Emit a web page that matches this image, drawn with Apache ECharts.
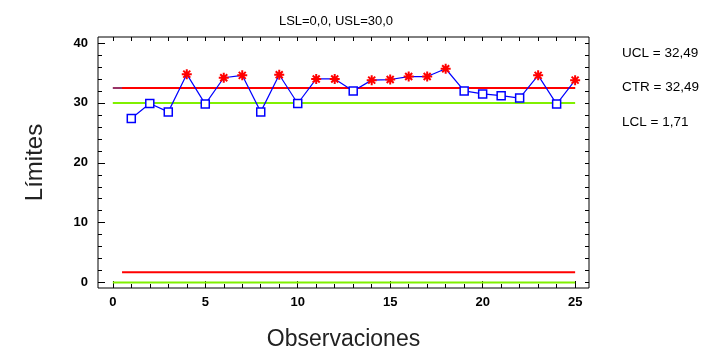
<!DOCTYPE html>
<html>
<head>
<meta charset="utf-8">
<script src="https://cdn.jsdelivr.net/npm/echarts@6/dist/echarts.min.js"></script>
<style>html,body{margin:0;padding:0;background:#fff}#c{width:726px;height:350px}</style>
</head>
<body>
<div id="c"></div>
<script>
// ---- data ----
const observations = [1,2,3,4,5,6,7,8,9,10,11,12,13,14,15,16,17,18,19,20,21,22,23,24,25];
const values = [27.4,29.9,28.5,34.8,29.8,34.2,34.6,28.5,34.7,29.9,34.0,34.0,32.0,33.8,33.9,34.4,34.4,35.7,32.0,31.5,31.2,30.8,34.6,29.8,33.8];
const UCL = 32.49;
const CTR = 32.49;
const LCL = 1.71;
const LSL = 0.0;
const USL = 30.0;
const xTickLabels = [0,5,10,15,20,25];
const yTickLabels = [0,10,20,30,40];
const titleText = 'LSL=0,0, USL=30,0';
const statLabels = ['UCL = 32,49','CTR = 32,49','LCL = 1,71'];

// ---- build ----
const X0 = -0.8, X1 = 25.75, Y0 = -0.9, Y1 = 41;
const xMinor = []; for (let i = 0; i <= 25; i++) xMinor.push(i);
const yMinor = []; for (let i = 0; i <= 40; i += 2) yMinor.push(i);
const pts = observations.map((o,i)=>[o, values[i]]);
const above = pts.filter(p => p[1] > UCL);
const below = pts.filter(p => p[1] <= UCL);
const font = 'Liberation Sans, Arial, sans-serif';
const star = 'path://M0,5 L10,5 M5,0 L5,10 M1.5,1.5 L8.5,8.5 M8.5,1.5 L1.5,8.5';

function xAx(pos, ticks, len, labels, extra) {
  return Object.assign({
    type:'value', position:pos, min:X0, max:X1,
    axisLine:{show:false, onZero:false}, splitLine:{show:false},
    axisTick:{show:true, inside:true, length:len, customValues:ticks, lineStyle:{color:'#000', width:1}},
    axisLabel:{show:!!labels, customValues:labels||[], color:'#000', fontFamily:font, fontSize:13, fontWeight:'bold', margin:8}
  }, extra||{});
}
function yAx(pos, ticks, len, labels, extra) {
  return Object.assign({
    type:'value', position:pos, min:Y0, max:Y1,
    axisLine:{show:false, onZero:false}, splitLine:{show:false},
    axisTick:{show:true, inside:true, length:len, customValues:ticks, lineStyle:{color:'#000', width:1}},
    axisLabel:{show:!!labels, customValues:labels||[], color:'#000', fontFamily:font, fontSize:13, fontWeight:'bold', margin:10}
  }, extra||{});
}

const chart = echarts.init(document.getElementById('c'), null, {renderer:'canvas'});
chart.setOption({
  animation:false,
  backgroundColor:'#fff',
  title:{text:titleText, left:331, top:10, textAlign:'center',
    textStyle:{fontFamily:font, fontSize:13, fontWeight:'normal', color:'#000'}},
  grid:{left:98, right:137, top:37, bottom:62, show:true, borderColor:'#000', borderWidth:1, backgroundColor:'#fff',
    containLabel:false, outerBoundsMode:'none'},
  xAxis:[
    xAx('bottom', xMinor, 4, xTickLabels, {name:'Observaciones', nameLocation:'middle', nameGap:40,
      nameTextStyle:{fontFamily:font, fontSize:23, color:'#222'}}),
    xAx('bottom', xTickLabels, 7, null),
    xAx('top', xMinor, 4, null)
  ],
  yAxis:[
    yAx('left', yMinor, 4, yTickLabels, {name:'Límites', nameLocation:'middle', nameGap:51, nameRotate:90,
      nameTextStyle:{fontFamily:font, fontSize:24, color:'#222'}}),
    yAx('left', yTickLabels, 7, null),
    yAx('right', yMinor, 4, null)
  ],
  series:[
    {type:'line', data:[[0,LSL],[25,LSL]], symbol:'none', lineStyle:{color:'#80f000', width:2}, z:2},
    {type:'line', data:[[0,USL],[25,USL]], symbol:'none', lineStyle:{color:'#80f000', width:2}, z:2},
    {type:'line', data:[[0,CTR],[25,CTR]], symbol:'none', lineStyle:{color:'#993366', width:2}, z:2},
    {type:'line', data:[[0.5,UCL],[25,UCL]], symbol:'none', lineStyle:{color:'#ff0000', width:2}, z:3},
    {type:'line', data:[[0.5,LCL],[25,LCL]], symbol:'none', lineStyle:{color:'#ff0000', width:2}, z:3},
    {type:'line', data:pts, symbol:'none', lineStyle:{color:'#0000ff', width:1.2}, z:4},
    {type:'scatter', data:below, symbol:'rect', symbolSize:8,
      itemStyle:{color:'#fff', borderColor:'#0000ff', borderWidth:1.5, opacity:1}, z:5},
    {type:'scatter', data:above, symbol:star, symbolSize:10,
      itemStyle:{color:'none', borderColor:'#ff0000', borderWidth:2, opacity:1}, z:5}
  ],
  graphic:statLabels.map((t,i)=>({type:'text', left:622, top:46+i*34.5,
    style:{text:t, fontFamily:font, fontSize:13.5, fill:'#000'}}))
});
</script>
</body>
</html>
